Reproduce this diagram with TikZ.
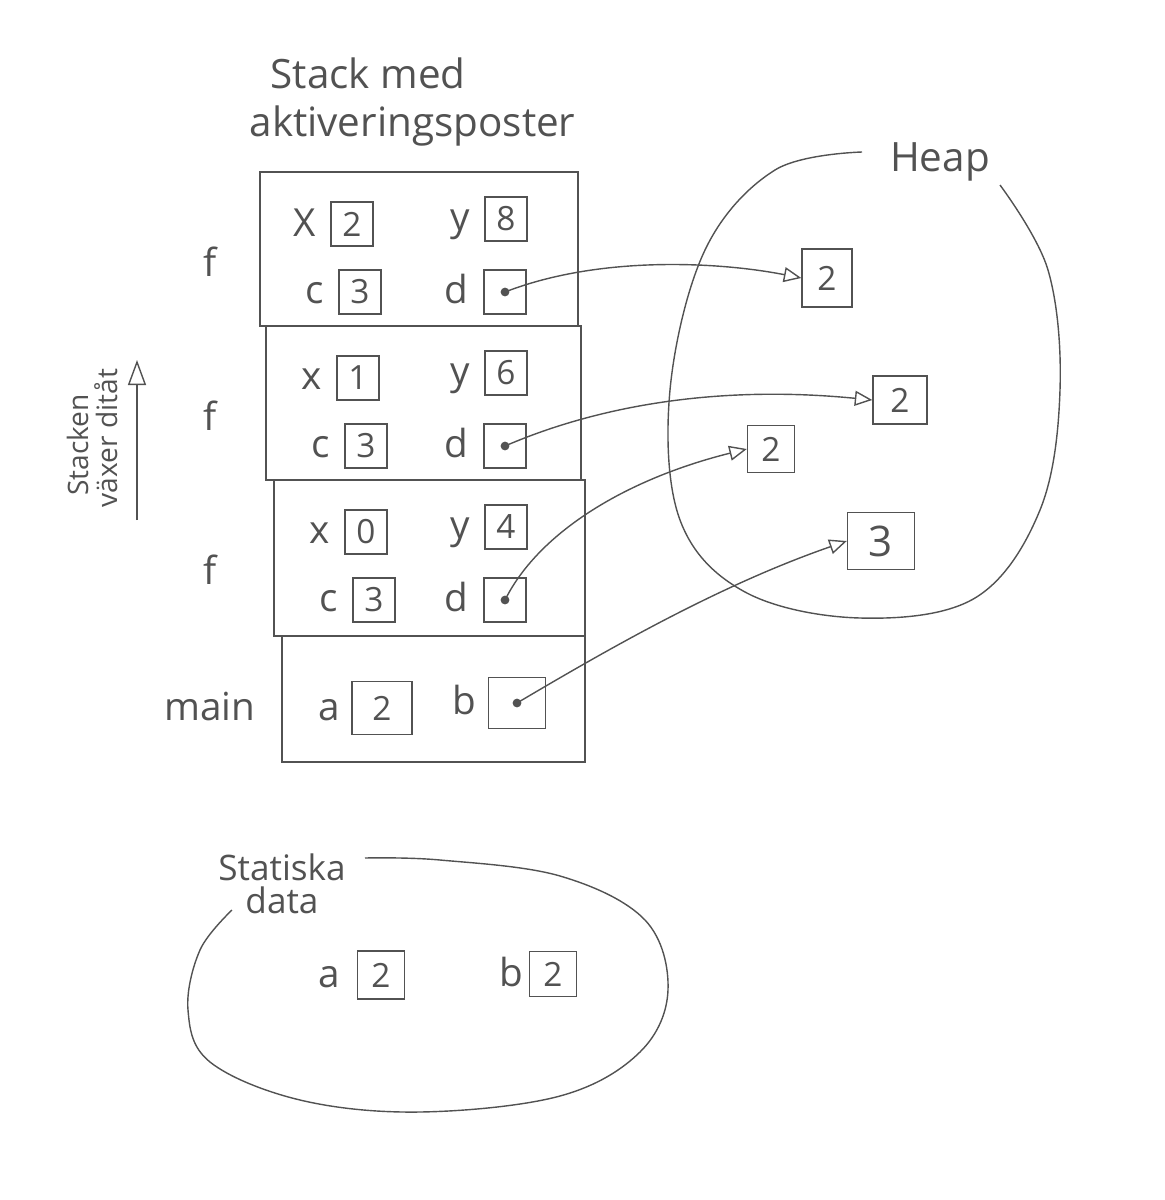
\documentclass[tikz,border=0pt]{standalone}
\usepackage{fontspec}
\setmainfont{Open Sans}
\usetikzlibrary{arrows.meta,positioning}
\definecolor{pencil}{gray}{0.32}

\begin{document}
\begin{tikzpicture}[x=0.02cm,y=-0.02cm,pencil,line width=0.8pt,
    cell/.style={draw,minimum width=0.84cm,minimum height=0.88cm,inner sep=0pt,font=\fontsize{19}{22}\selectfont},
    var/.style={font=\fontsize{22}{26}\selectfont,inner sep=1pt,anchor=base east},
    title/.style={font=\fontsize{23}{26}\selectfont,align=left},
    ptr/.style={-{Triangle[open,length=3.5mm,width=3mm]}}]
    \useasboundingbox (0,0) rectangle (1165,1200);

    % the stack
    \node[title,anchor=west] (stacklbl) at (243,102) {\hspace*{12pt}Stack med\\[1pt]aktiveringsposter};
    \foreach \n/\top/\bot/\dx/\xl/\xv/\yv in {1/172/326/0/X/2/8, 2/326/480/6/x/1/6, 3/480/636/14/x/0/4}{
        \draw (260+\dx,\top) rectangle (578+\dx/2,\bot);
        \node[var,anchor=center] (f\n) at (210,\top+90) {f};
        \node[cell] (x\n) at (352+\dx,\top+52) {\xv};
        \node[var] at ([xshift=-7pt]x\n.base west) {\xl};
        \node[cell] (y\n) at (506,\top+47) {\yv};
        \node[var] at ([xshift=-7pt]y\n.base west) {y};
        \node[cell] (c\n) at (360+\dx,\top+120) {3};
        \node[var] at ([xshift=-7pt]c\n.base west) {c};
        \node[cell] (d\n) at (505,\top+120) {\phantom{0}};
        \node[var] at ([xshift=-7pt]d\n.base west) {d};
        \fill (d\n.center) circle (2.5pt);
    }
    \draw (282,636) rectangle (585,762);
    \node[var,anchor=center] (mainlbl) at (210,706) {main};
    \node[cell,minimum width=1.2cm,minimum height=1.06cm] (a) at (382,708) {2};
    \node[var] at ([xshift=-5pt]a.base west) {a};
    \node[cell,minimum width=1.14cm,minimum height=1.02cm] (b) at (517,703) {\phantom{0}};
    \node[var] at ([xshift=-5pt]b.base west) {b};
    \fill (b.center) circle (2.5pt);

    % growth direction
    \coordinate (grow0) at (137,520);
    \coordinate (grow1) at (137,360);
    \draw[-{Triangle[open,length=5mm,width=3.6mm]}] (grow0) -- (grow1);
    \node[rotate=90,font=\fontsize{16}{18}\selectfont] (growlbl1) at (78,445) {Stacken};
    \node[rotate=90,font=\fontsize{16}{18}\selectfont] (growlbl2) at (106,438) {växer ditåt};

    % the heap
    \node[title] (heaplbl) at (940,162) {Heap};
    \draw plot[smooth,tension=0.6] coordinates {(862,152) (775,170) (705,250) (670,390) (680,520) (745,592) (860,618) (975,598) (1040,510) (1060,390) (1048,270) (1000,185)};
    \node[cell,minimum width=1cm,minimum height=1.16cm] (h1) at (827,278) {2};
    \node[cell,minimum width=1.08cm,minimum height=0.96cm] (h2) at (900,400) {2};
    \node[cell,minimum width=0.94cm,minimum height=0.94cm] (h3) at (771,449) {2};
    \node[cell,minimum width=1.34cm,minimum height=1.14cm,font=\fontsize{24}{28}\selectfont] (h4) at (881,541) {3};

    \draw[ptr] (d1.center) .. controls (600,255) and (720,262) .. (h1.west);
    \draw[ptr] (d2.center) .. controls (600,405) and (720,385) .. (h2.west);
    \draw[ptr] (d3.center) .. controls (540,530) and (630,478) .. (h3.west);
    \draw[ptr] (b.center) .. controls (610,648) and (720,585) .. (h4.west);

    % static data
    \node[title,align=center,font=\fontsize{20}{20}\selectfont] (statlbl) at (282,884) {Statiska\\[-1pt]data};
    \draw plot[smooth,tension=0.6] coordinates {(232,910) (200,950) (188,1010) (210,1062) (300,1100) (420,1112) (560,1096) (640,1052) (668,990) (645,920) (560,876) (440,860) (365,858)};
    \node[cell,minimum width=0.94cm,minimum height=0.96cm] (sa) at (381,975) {2};
    \node[var] at ([xshift=-8pt]sa.base west) {a};
    \node[cell,minimum width=0.94cm,minimum height=0.9cm] (sb) at (553,974) {2};
    \node[var] at ([xshift=-2pt]sb.base west) {b};
\end{tikzpicture}
\end{document}
